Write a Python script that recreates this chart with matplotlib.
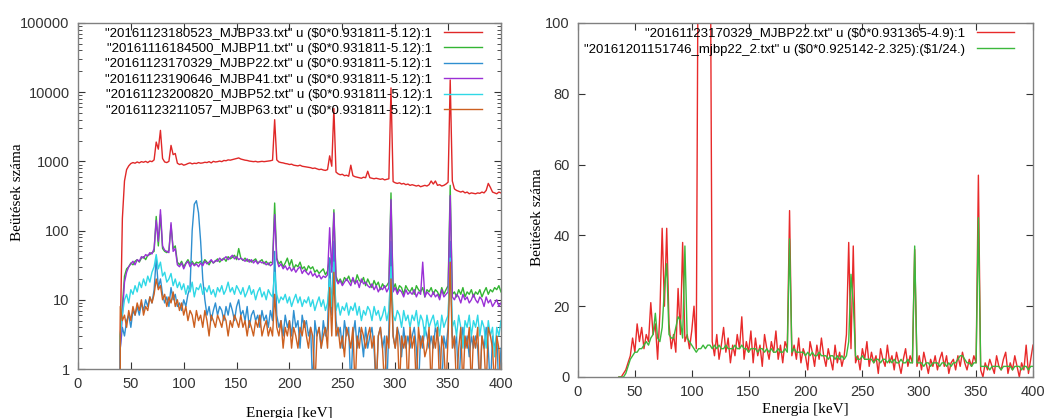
import numpy as np
import matplotlib
matplotlib.use("Agg")
import matplotlib.pyplot as plt
from matplotlib.ticker import LogLocator, NullFormatter, FixedLocator

# energy grid [keV], 2 keV steps from 36 to 400
energy = np.arange(36, 401, 2)

# left panel: six spectra (log scale)
mjbp33 = [0, 0, 3, 150, 520, 760, 860, 930, 960, 940,
          980, 950, 990, 970, 1000, 960, 1010, 990, 1050, 1900,
          1500, 2800, 1100, 980, 960, 1000, 1700, 1250, 1300, 940,
          900, 920, 880, 900, 930, 950, 920, 940, 930, 960,
          940, 950, 970, 960, 990, 950, 1000, 980, 990, 1010,
          990, 1030, 1020, 1050, 1040, 1060, 1080, 1100, 1120, 1080,
          1060, 1040, 1030, 1010, 1000, 990, 1000, 980, 990, 1000,
          990, 1000, 1010, 1020, 1040, 4000, 1050, 980, 960, 950,
          930, 920, 900, 910, 880, 870, 860, 880, 850, 840,
          830, 820, 810, 790, 800, 780, 760, 770, 750, 740,
          760, 1200, 850, 5800, 700, 660, 640, 650, 620, 630,
          610, 880, 620, 600, 590, 580, 570, 590, 580, 720,
          580, 570, 560, 570, 560, 550, 560, 540, 550, 560,
          11500, 510, 490, 480, 490, 470, 480, 460, 470, 450,
          460, 450, 440, 450, 430, 440, 450, 440, 460, 520,
          470, 520, 450, 460, 440, 450, 470, 500, 15000, 520,
          400, 380, 370, 360, 370, 350, 360, 340, 350, 345,
          340, 350, 345, 360, 350, 380, 480, 420, 360, 350,
          340, 360, 350]
mjbp11 = [0, 0, 3, 8, 22, 28, 30, 34, 32, 36,
          38, 35, 40, 42, 38, 44, 45, 48, 50, 160,
          60, 170, 55, 50, 48, 52, 120, 55, 60, 35,
          32, 36, 30, 34, 38, 33, 36, 32, 35, 34,
          36, 33, 38, 35, 32, 37, 34, 36, 39, 35,
          38, 40, 36, 42, 39, 41, 44, 38, 55, 40,
          37, 40, 36, 38, 35, 37, 39, 34, 36, 38,
          33, 36, 32, 35, 34, 250, 40, 33, 36, 30,
          34, 40, 31, 38, 28, 32, 30, 35, 28, 30,
          26, 31, 28, 30, 25, 27, 24, 26, 28, 23,
          26, 40, 30, 200, 22, 18, 20, 17, 21, 19,
          22, 18, 20, 17, 23, 19, 18, 21, 16, 20,
          17, 15, 19, 16, 18, 14, 17, 15, 16, 18,
          350, 14, 17, 13, 16, 15, 12, 16, 14, 13,
          15, 12, 16, 14, 13, 15, 11, 14, 13, 15,
          12, 14, 13, 11, 15, 12, 14, 16, 450, 12,
          13, 11, 14, 12, 15, 11, 13, 12, 14, 11,
          13, 12, 14, 11, 13, 15, 12, 14, 13, 15,
          14, 16, 13]
mjbp22 = [0, 0, 2, 4, 3, 5, 6, 4, 7, 6,
          8, 6, 9, 7, 10, 8, 11, 9, 14, 40,
          15, 20, 12, 9, 11, 8, 15, 10, 12, 8,
          9, 7, 10, 8, 12, 15, 100, 240, 270, 180,
          70, 20, 10, 6, 8, 5, 7, 9, 6, 8,
          7, 5, 8, 6, 9, 7, 5, 8, 10, 6,
          7, 5, 8, 4, 6, 7, 5, 6, 4, 7,
          5, 6, 4, 7, 5, 50, 6, 4, 5, 3,
          6, 4, 5, 3, 7, 4, 5, 2, 6, 4,
          5, 3, 4, 0.5, 5, 3, 4, 2, 5, 3,
          4, 40, 6, 70, 5, 3, 4, 2, 5, 3,
          4, 0.5, 3, 5, 2, 4, 3, 1.5, 4, 2,
          3, 4, 2, 0.5, 3, 4, 2, 3, 0.5, 4,
          70, 3, 2, 4, 3, 1.5, 4, 2, 3, 2,
          3, 4, 2, 0.5, 3, 2, 4, 3, 2, 3,
          2, 4, 3, 2, 0.5, 3, 2, 4, 70, 3,
          2, 3, 0.5, 2, 4, 2, 3, 1.5, 3, 2,
          3, 2, 0.5, 3, 2, 4, 2, 0.5, 3, 2,
          3, 0.5, 2]
mjbp41 = [0, 0, 2, 6, 18, 25, 30, 33, 36, 32,
          38, 36, 42, 40, 45, 43, 48, 46, 55, 140,
          70, 200, 60, 52, 50, 48, 130, 50, 55, 32,
          30, 34, 28, 33, 36, 30, 34, 31, 33, 30,
          34, 31, 36, 33, 35, 38, 34, 37, 36, 40,
          37, 39, 42, 38, 41, 44, 39, 42, 38, 40,
          38, 36, 39, 35, 38, 34, 37, 33, 36, 34,
          35, 32, 34, 31, 33, 170, 38, 30, 33, 28,
          31, 27, 30, 26, 29, 25, 28, 30, 24, 27,
          25, 23, 26, 22, 24, 21, 23, 20, 22, 21,
          23, 110, 25, 180, 20, 17, 19, 16, 18, 20,
          18, 16, 21, 17, 19, 15, 20, 17, 18, 16,
          15, 17, 14, 16, 13, 15, 14, 16, 13, 15,
          280, 13, 15, 12, 14, 13, 11, 14, 12, 13,
          12, 14, 11, 13, 12, 35, 11, 13, 12, 11,
          13, 11, 12, 10, 14, 11, 12, 13, 320, 11,
          10, 12, 11, 9, 12, 10, 11, 9, 10, 12,
          10, 9, 11, 10, 8, 11, 9, 10, 8, 9,
          10, 8, 9]
mjbp52 = [0, 0, 3, 6, 10, 12, 9, 14, 12, 16,
          13, 18, 15, 20, 16, 22, 18, 25, 30, 45,
          28, 35, 22, 25, 18, 20, 24, 16, 20, 15,
          18, 14, 17, 12, 16, 13, 18, 11, 15, 14,
          17, 12, 15, 13, 16, 12, 14, 11, 15, 13,
          16, 12, 14, 18, 13, 15, 12, 16, 14, 12,
          15, 11, 13, 16, 12, 14, 10, 13, 15, 11,
          13, 10, 14, 12, 11, 25, 12, 9, 11, 10,
          12, 9, 11, 8, 10, 12, 9, 11, 8, 10,
          9, 11, 8, 10, 7, 9, 11, 8, 10, 7,
          9, 20, 8, 35, 7, 9, 6, 8, 7, 9,
          6, 8, 7, 9, 6, 8, 5, 7, 6, 8,
          7, 5, 8, 6, 7, 5, 6, 8, 5, 7,
          30, 6, 5, 7, 6, 4, 7, 5, 6, 4,
          6, 5, 7, 4, 6, 5, 3, 6, 4, 5,
          6, 4, 5, 3, 6, 4, 5, 6, 40, 4,
          5, 3, 6, 4, 2, 5, 4, 6, 3, 5,
          4, 6, 3, 5, 4, 2, 5, 3, 4, 1.5,
          4, 3, 5]
mjbp63 = [0, 0, 8, 5, 6, 4, 7, 5, 8, 6,
          9, 7, 10, 6, 8, 7, 11, 9, 12, 20,
          14, 16, 10, 12, 8, 11, 9, 13, 8, 10,
          7, 9, 6, 8, 5, 7, 6, 4, 7, 5,
          6, 4, 7, 5, 3, 6, 5, 4, 6, 5,
          4, 6, 5, 3, 5, 4, 6, 5, 4, 6,
          4, 5, 3, 5, 4, 3, 5, 4, 6, 3,
          4, 5, 3, 4, 3, 12, 4, 3, 5, 2,
          4, 3, 5, 2, 4, 3, 2, 4, 3, 5,
          3, 2, 4, 3, 0.5, 3, 4, 2, 3, 4,
          2, 15, 3, 25, 3, 4, 2, 3, 1.5, 4,
          3, 2, 4, 0.5, 3, 2, 4, 3, 2, 3,
          4, 2, 3, 0.5, 3, 4, 2, 0.5, 3, 2,
          20, 3, 2, 4, 0.5, 3, 2, 3, 0.5, 4,
          2, 3, 0.5, 4, 2, 3, 1.5, 2, 4, 0.5,
          3, 2, 4, 0.5, 3, 2, 0.5, 3, 35, 2,
          3, 0.5, 2, 4, 0.5, 3, 2, 4, 0.5, 3,
          2, 4, 0.5, 3, 2, 0.5, 4, 3, 2, 0.5,
          3, 2, 0.5]

# right panel: MJBP22 vs mjbp22_2 (scaled by 1/24)
mjbp22_lin = [0, 0, 1, 2, 4, 6, 11, 7, 15, 10,
              14, 8, 12, 10, 21, 12, 15, 5, 18, 42,
              20, 42, 15, 8, 12, 7, 25, 12, 38, 10,
              12, 8, 13, 20, 8, 150, 300, 400, 350, 250,
              150, 10, 6, 12, 5, 9, 14, 7, 11, 4,
              9, 6, 12, 8, 17, 5, 10, 7, 13, 4,
              11, 6, 9, 3, 12, 8, 5, 10, 7, 13,
              5, 9, 4, 10, 8, 47, 6, 9, 5, 11,
              4, 8, 6, 2, 10, 7, 3, 9, 5, 11,
              6, 3, 8, 5, 2, 9, 4, 7, 3, 6,
              12, 38, 8, 37, 4, 6, 2, 8, 5, 10,
              3, 7, 4, 6, 1, 8, 5, 3, 9, 4,
              6, 2, 7, 4, 1, 5, 8, 3, 6, 4,
              36, 3, 6, 2, 7, 4, 1, 5, 3, 6,
              2, 5, 7, 3, 6, 1, 4, 5, 2, 6,
              3, 7, 4, 2, 5, 3, 6, 4, 57, 2,
              0, 4, 2, 5, 3, 1, 6, 3, 2, 5,
              7, 1, 4, 2, 6, 3, 0, 4, 2, 9,
              1, 5, 9]
mjbp22_2 = [0, 0, 0, 1, 3, 5, 6, 7, 7, 8,
            8, 9, 10, 9, 11, 12, 18, 11, 10, 14,
            25, 32, 12, 11, 11, 14, 17, 16, 11, 37,
            11, 10, 9, 8, 7, 8, 8, 9, 8, 9,
            9, 8, 9, 8, 9, 8, 8, 9, 8, 8,
            8, 9, 8, 8, 9, 8, 8, 7, 8, 8,
            8, 7, 8, 8, 7, 8, 7, 8, 7, 7,
            8, 7, 7, 8, 7, 39, 7, 8, 7, 7,
            7, 7, 6, 7, 6, 7, 6, 6, 7, 6,
            6, 6, 5, 6, 6, 5, 6, 5, 6, 5,
            6, 10, 29, 21, 6, 5, 5, 6, 5, 5,
            5, 5, 4, 5, 5, 4, 5, 5, 4, 5,
            4, 5, 4, 4, 5, 4, 4, 5, 4, 4,
            37, 4, 4, 4, 3, 4, 4, 3, 4, 4,
            4, 3, 4, 4, 3, 4, 3, 4, 4, 5,
            6, 6, 5, 4, 4, 3, 4, 4, 45, 3,
            3, 3, 3, 2, 3, 3, 3, 3, 2, 3,
            3, 3, 3, 2, 3, 3, 3, 2, 3, 3,
            2, 3, 3]

# legend texts (dollar signs escaped so they are not read as math)
left_labels = [
    r'"20161123180523_MJBP33.txt" u (\$0*0.931811-5.12):1',
    r'"20161116184500_MJBP11.txt" u (\$0*0.931811-5.12):1',
    r'"20161123170329_MJBP22.txt" u (\$0*0.931811-5.12):1',
    r'"20161123190646_MJBP41.txt" u (\$0*0.931811-5.12):1',
    r'"20161123200820_MJBP52.txt" u (\$0*0.931811-5.12):1',
    r'"20161123211057_MJBP63.txt" u (\$0*0.931811-5.12):1',
]
right_labels = [
    r'"20161123170329_MJBP22.txt" u (\$0*0.931365-4.9):1',
    r'"20161201151746_mjbp22_2.txt" u (\$0*0.925142-2.325):(\$1/24.)',
]
left_colors = ["#e02828", "#33b533", "#2f8fd0", "#9a30d6", "#30d8e6", "#cc6020"]
right_colors = ["#e82a2a", "#3cb83c"]

tick_font = "Liberation Sans"
label_font = "Liberation Serif"
spine_color = "#808080"


def style_axes(ax):
    for s in ax.spines.values():
        s.set_color(spine_color)
        s.set_linewidth(1.0)
    ax.tick_params(which="both", direction="in", top=True, right=True,
                   color="#333333", labelsize=10.5, labelcolor="#333333", pad=6)
    ax.tick_params(which="major", length=5)
    ax.tick_params(which="minor", length=3)
    for lab in ax.get_xticklabels() + ax.get_yticklabels():
        lab.set_fontfamily(tick_font)


fig = plt.figure(figsize=(10.45, 4.18), dpi=100)

# Left: log scale spectra
ax1 = fig.add_axes([0.0746, 0.1172, 0.4048, 0.828])
series = [mjbp33, mjbp11, mjbp22, mjbp41, mjbp52, mjbp63]
for vals, lab, col in zip(series, left_labels, left_colors):
    ax1.plot(energy, vals, color=col, lw=1.0, label=lab)
ax1.set_yscale("log", nonpositive="clip")
ax1.set_xlim(0, 400)
ax1.set_ylim(1, 100000)
ax1.xaxis.set_major_locator(FixedLocator([0, 50, 100, 150, 200, 250, 300, 350, 400]))
ax1.yaxis.set_major_locator(FixedLocator([1, 10, 100, 1000, 10000, 100000]))
ax1.set_yticklabels(["1", "10", "100", "1000", "10000", "100000"])
ax1.yaxis.set_minor_locator(LogLocator(base=10, subs=np.arange(2, 10), numticks=20))
ax1.yaxis.set_minor_formatter(NullFormatter())
style_axes(ax1)
ax1.set_xlabel("Energia [keV]", fontfamily=label_font, fontsize=11, labelpad=11)
ax1.set_ylabel("Beütések száma", fontfamily=label_font, fontsize=11)
ax1.yaxis.set_label_coords(-0.128, 0.51)
leg1 = ax1.legend(loc="upper right", bbox_to_anchor=(0.975, 1.01), frameon=False,
                  markerfirst=False, handlelength=2.9, handletextpad=0.9,
                  labelspacing=0.24, borderaxespad=0.2,
                  prop={"family": tick_font, "size": 9.5})

# Right: linear scale comparison
ax2 = fig.add_axes([0.5531, 0.0981, 0.4354, 0.847])
ax2.plot(energy, mjbp22_lin, color=right_colors[0], lw=1.0, label=right_labels[0])
ax2.plot(energy, mjbp22_2, color=right_colors[1], lw=1.0, label=right_labels[1])
ax2.set_xlim(0, 400)
ax2.set_ylim(0, 100)
ax2.xaxis.set_major_locator(FixedLocator([0, 50, 100, 150, 200, 250, 300, 350, 400]))
ax2.yaxis.set_major_locator(FixedLocator([0, 20, 40, 60, 80, 100]))
style_axes(ax2)
ax2.set_xlabel("Energia [keV]", fontfamily=label_font, fontsize=11, labelpad=3)
ax2.set_ylabel("Beütések száma", fontfamily=label_font, fontsize=11)
ax2.yaxis.set_label_coords(-0.075, 0.45)
leg2 = ax2.legend(loc="upper right", bbox_to_anchor=(0.975, 1.01), frameon=False,
                  markerfirst=False, handlelength=2.8, handletextpad=0.9,
                  labelspacing=0.3, borderaxespad=0.2,
                  prop={"family": tick_font, "size": 9.5})

plt.savefig("out.png", dpi=100)
plt.close()
